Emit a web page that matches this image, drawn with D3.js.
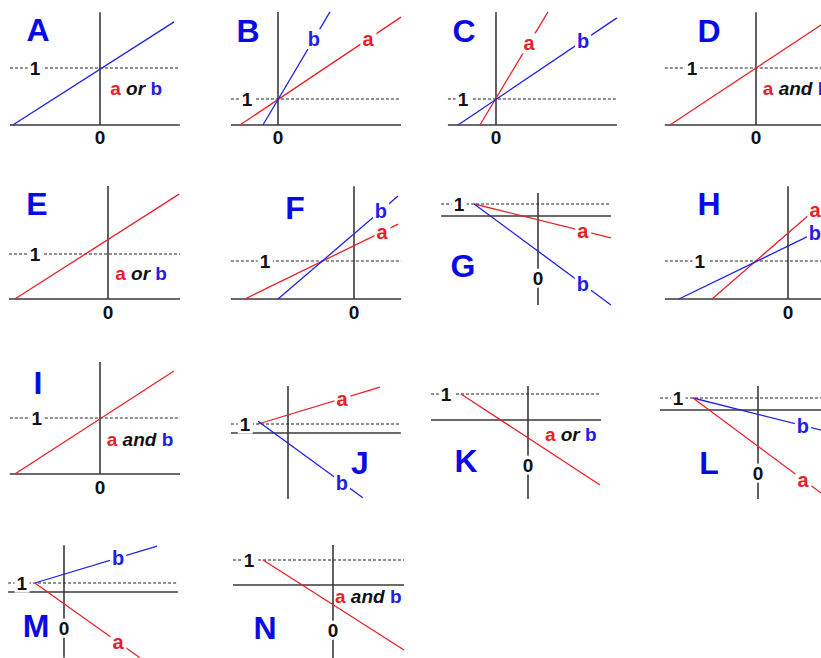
<!DOCTYPE html>
<html>
<head>
<meta charset="utf-8">
<script src="https://cdn.jsdelivr.net/npm/d3@7"></script>
<style>
body { margin: 0; background: #fff; }
svg { display: block; font-family: "Liberation Sans", Arial, sans-serif; font-weight: bold; }
</style>
</head>
<body>
<svg id="chart" width="821" height="658"></svg>
<script>
// ---- data (all in each panel's own units) ----
const panelNames = ["A","B","C","D","E","F","G","H","I","J","K","L","M","N"]

// horizontal axis (and dotted y = 1 guide) extent
const xAxisExtents = [
    [-1.58, 1.40], [-1.81, 4.73], [-1.85, 4.65], [-1.6, 1.4],
    [-2.2, 1.6], [-3.24, 1.24], [-2.55, 1.92], [-3.24, 1.24],
    [-1.61, 1.43], [-1.5, 2.97], [-3.73, 2.81], [-3.77, 2.6],
    [-2.15, 4.38], [-4.0, 2.84]
]
// vertical axis extent
const yAxisExtents = [
    [0, 1.98], [0, 4.35], [0, 4.35], [0, 1.98],
    [0, 2.51], [0, 2.97], [-7.42, 1.92], [0, 2.97],
    [0, 2.0], [-7.33, 5.22], [-3.04, 1.31], [-7.42, 2.0],
    [-7.3, 5.2], [-2.92, 1.6]
]
// where the "1" tick label sits on the y = 1 line
const oneLabelX = [-1.14, -1.19, -1.27, -1.12, -1.62, -2.34, -2.08, -2.32, -1.13, -1.13, -3.15, -3.08, -1.62, -3.36]
// where the "0" label sits on the vertical axis (null = none)
const zeroLabelY = [-0.21, -0.46, -0.46, -0.21, -0.29, -0.34, -5.17, -0.34, -0.23, null, -1.73, -5.25, -4.0, -1.8]

// lines: [series, start, end, x of the series label]
const lineSets = [
    [["b", [-1.53, 0], [1.30, 1.81], null]],
    [["a", [-1.46, 0], [4.73, 4.15], 3.46], ["b", [-0.58, 0], [2.0, 4.35], 1.38]],
    [["a", [-0.62, 0], [2.0, 4.35], 1.27], ["b", [-1.46, 0], [4.65, 4.12], 3.35]],
    [["a", [-1.51, 0], [1.45, 1.96], null]],
    [["a", [-2.07, 0], [1.58, 2.33], null]],
    [["a", [-2.87, 0], [1.16, 1.97], 0.74], ["b", [-2.0, 0], [1.16, 2.71], 0.71]],
    [["a", [-1.68, 1], [1.92, -1.83], 1.18], ["b", [-1.68, 1], [1.92, -7.42], 1.18]],
    [["a", [-2.0, 0], [0.55, 2.21], 0.71], ["b", [-2.87, 0], [0.55, 1.66], 0.71]],
    [["a", [-1.52, 0], [1.32, 1.84], null]],
    [["a", [-0.79, 1], [2.42, 5.1], 1.42], ["b", [-0.79, 1.3], [1.97, -7.2], 1.42]],
    [["a", [-2.58, 1], [2.77, -2.5], null]],
    [["b", [-2.5, 1], [2.6, -1.77], 1.73], ["a", [-2.5, 1], [2.6, -7.2], 1.73]],
    [["b", [-1.12, 1], [3.58, 5.1], 2.08], ["a", [-1.12, 1], [2.92, -7.3], 2.08]],
    [["a", [-2.8, 1], [2.84, -2.6], null]]
]

// "a or b" / "a and b" captions: word and start point
const captionWords = ["or", null, null, "and", "or", null, null, null, "and", null, "or", null, null, "and"]
const captionAt = [[0.18, 0.53], null, null, [0.12, 0.53], [0.16, 0.42], null, null, null,
    [0.12, 0.5], null, [0.65, -0.81], null, null, [0.08, -0.72]]

// ---- layout: origin and pixels per unit of every panel, letter position ----
const layout = [
    {ox: 100, oy: 125, ux: 57, uy: 57, lx: 38, ly: 29},
    {ox: 278, oy: 125, ux: 26, uy: 26, lx: 248, ly: 30},
    {ox: 496, oy: 125, ux: 26, uy: 26, lx: 464, ly: 30},
    {ox: 756, oy: 125, ux: 57, uy: 57, lx: 709, ly: 30},
    {ox: 108, oy: 299, ux: 45, uy: 45, lx: 37, ly: 203},
    {ox: 354, oy: 299, ux: 38, uy: 38, lx: 295, ly: 207},
    {ox: 538, oy: 216, ux: 38, uy: 12, lx: 463, ly: 265},
    {ox: 788, oy: 299, ux: 38, uy: 38, lx: 709, ly: 203},
    {ox: 100, oy: 474, ux: 56, uy: 56, lx: 38, ly: 382},
    {ox: 288, oy: 433, ux: 38, uy: 9, lx: 360, ly: 462},
    {ox: 528, oy: 420, ux: 26, uy: 26, lx: 466, ly: 460},
    {ox: 758, oy: 410, ux: 26, uy: 12, lx: 709, ly: 462},
    {ox: 64, oy: 592, ux: 26, uy: 9, lx: 36, ly: 625},
    {ox: 333, oy: 585, ux: 25, uy: 25, lx: 265, ly: 627}
]

const colors = {a: "#e8202a", b: "#2020e8"}
const letterColor = "#0a0ae6"
const axisColor = "#3a3a3a"

const svg = d3.select("#chart")

// text with a white box behind it, centred on (x, y)
function boxedText(g, x, y, str, color, size) {
    const t = g.append("text")
        .attr("x", x)
        .attr("y", y)
        .attr("dy", "0.35em")
        .attr("text-anchor", "middle")
        .style("font-size", size + "px")
        .style("fill", color)
        .text(str)
    const bb = t.node().getBBox()
    g.insert("rect", () => t.node())
        .attr("x", bb.x - 2)
        .attr("y", bb.y + 1)
        .attr("width", bb.width + 4)
        .attr("height", bb.height - 2)
        .style("fill", "#fff")
}

panelNames.forEach((name, i) => {
    const L = layout[i]
    const x = d3.scaleLinear().domain([0, 1]).range([L.ox, L.ox + L.ux])
    const y = d3.scaleLinear().domain([0, 1]).range([L.oy, L.oy - L.uy])
    const g = svg.append("g").attr("class", "panel-" + name)

    const xe = xAxisExtents[i], ye = yAxisExtents[i]

    // axes
    g.append("line")
        .attr("x1", x(xe[0])).attr("x2", x(xe[1]))
        .attr("y1", y(0)).attr("y2", y(0))
        .style("stroke", axisColor).style("stroke-width", 1.6)
    g.append("line")
        .attr("x1", x(0)).attr("x2", x(0))
        .attr("y1", y(ye[0])).attr("y2", y(ye[1]))
        .style("stroke", axisColor).style("stroke-width", 1.6)

    // dotted y = 1 guide
    g.append("line")
        .attr("x1", x(xe[0])).attr("x2", x(xe[1]))
        .attr("y1", y(1)).attr("y2", y(1))
        .style("stroke", "#222").style("stroke-width", 1)
        .style("stroke-dasharray", "3,2")

    const lines = lineSets[i]
    const line = d3.line().x(d => x(d[0])).y(d => y(d[1]))
    g.selectAll(".ln")
        .data(lines)
        .enter()
        .append("path")
        .attr("class", "ln")
        .attr("d", d => line([d[1], d[2]]))
        .style("fill", "none")
        .style("stroke", d => colors[d[0]])
        .style("stroke-width", 1.3)

    // tick labels
    boxedText(g, x(oneLabelX[i]), y(1), "1", "#111", 19)
    if (zeroLabelY[i] !== null) boxedText(g, x(0), y(zeroLabelY[i]), "0", "#111", 19)

    // series labels placed on their lines
    lines.forEach(d => {
        if (d[3] === null) return
        const p0 = d[1], p1 = d[2]
        const slope = (p1[1] - p0[1]) / (p1[0] - p0[0])
        const ly = p0[1] + slope * (d[3] - p0[0])
        boxedText(g, x(d[3]), y(ly), d[0], colors[d[0]], 20)
    })

    // caption
    if (captionWords[i]) {
        const c = captionAt[i]
        const t = g.append("text")
            .attr("x", x(c[0])).attr("y", y(c[1]))
            .style("font-size", "19px")
        t.append("tspan").style("fill", colors.a).text("a")
        t.append("tspan").style("fill", "#111").style("font-style", "italic").text(" " + captionWords[i] + " ")
        t.append("tspan").style("fill", colors.b).text("b")
    }

    // panel letter
    g.append("text")
        .attr("x", L.lx).attr("y", L.ly)
        .attr("dy", "0.36em")
        .attr("text-anchor", "middle")
        .style("font-size", "32px")
        .style("fill", letterColor)
        .text(name)
})
</script>
</body>
</html>
